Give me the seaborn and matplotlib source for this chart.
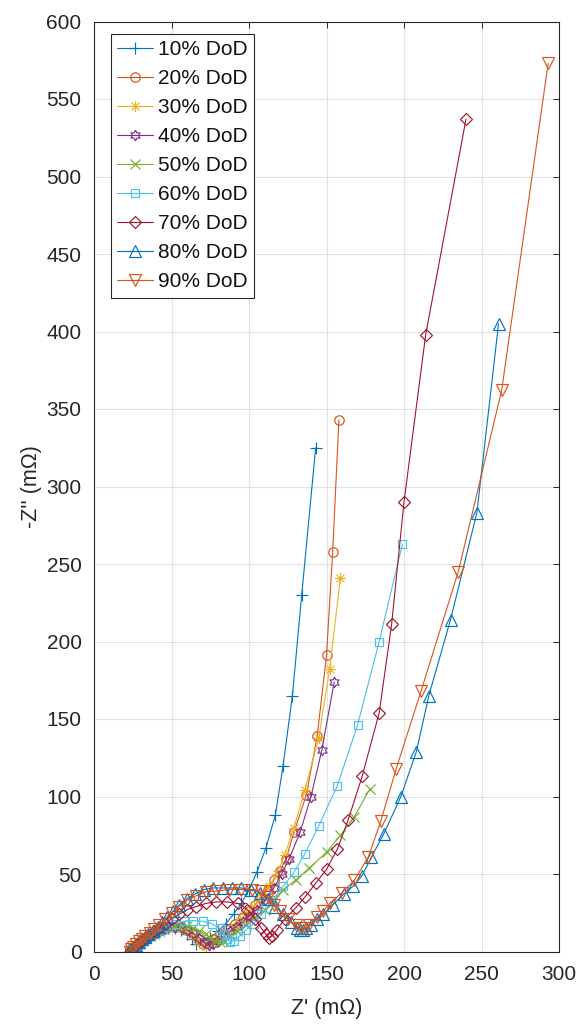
import numpy as np
import pandas as pd
import matplotlib
matplotlib.use("Agg")
import matplotlib.pyplot as plt
from matplotlib.path import Path
import seaborn as sns

# Nyquist data: real part Z' and negative imaginary part -Z'' (mOhm) at each depth of discharge
z_re_10 = [23, 24, 25, 27, 29, 31, 33, 36, 39, 42, 45, 48, 52, 56, 60, 63, 66, 70, 75, 80, 85, 90, 95, 100, 105, 111, 117, 122, 128, 134, 143]
z_im_10 = [0, 1, 2, 3.5, 5, 6.5, 8, 10, 11.5, 13, 14, 15, 15, 14, 11, 8, 5, 6, 9, 13, 18, 24, 31, 40, 51, 67, 88, 120, 165, 230, 325]

z_re_20 = [23, 24, 25, 27, 29, 31, 33, 36, 39, 42, 45, 48, 52, 56, 60, 64, 67, 70, 73, 77, 81, 86, 91, 96, 100, 104, 108, 112, 116, 120, 124, 129, 137, 144, 150, 154, 158]
z_im_20 = [0, 1, 2, 3.5, 5, 6.5, 8, 10, 11.5, 13, 14.5, 15.5, 16, 15.5, 14, 11, 8, 5, 6, 8, 11, 14, 18, 22, 26, 30, 35, 40, 46, 52, 60, 77, 101, 139, 191, 258, 343]

z_re_30 = [23, 24, 25, 27, 29, 31, 33, 36, 39, 42, 45, 48, 52, 56, 60, 64, 67, 70, 72, 75, 78, 82, 86, 90, 94, 98, 103, 108, 113, 118, 123, 129, 136, 145, 152, 159]
z_im_30 = [0, 1, 2, 3.5, 5, 6.5, 8, 10, 11.5, 13, 14, 15, 15.5, 15, 13, 10, 7, 4.5, 3.5, 4.5, 6.5, 9, 12, 16, 20, 24, 29, 35, 42, 50, 62, 80, 104, 138, 182, 241]

z_re_40 = [23, 24, 25, 27, 29, 31, 33, 36, 39, 42, 45, 48, 52, 56, 60, 64, 68, 71, 74, 77, 80, 84, 88, 92, 96, 100, 105, 110, 116, 121, 126, 133, 140, 147, 155]
z_im_40 = [0, 1, 2, 3.5, 5, 6.5, 8, 10, 11.5, 13, 14.5, 15.5, 16, 15.5, 14, 12, 9, 6, 4.5, 5, 7, 10, 13, 16, 19, 23, 27, 33, 41, 50, 60, 77, 100, 130, 174]

z_re_50 = [23, 24, 25, 27, 29, 31, 33, 36, 39, 42, 45, 48, 52, 56, 60, 64, 68, 72, 75, 78, 81, 84, 88, 92, 98, 104, 110, 116, 122, 130, 139, 150, 159, 168, 178]
z_im_50 = [0, 1, 2, 3.5, 5, 6.5, 8, 10, 11.5, 13, 14.5, 15.5, 16.5, 17, 16.5, 15, 13.5, 11, 8.5, 6.5, 6, 7, 10, 13, 17, 22, 27, 33, 40, 46, 54, 64, 75, 87, 105]

z_re_60 = [23, 24, 25, 27, 29, 31, 34, 37, 40, 44, 48, 53, 58, 64, 70, 76, 81, 84, 86, 88, 90, 94, 98, 103, 108, 115, 122, 129, 136, 145, 157, 170, 184, 199]
z_im_60 = [0, 1, 2, 3.5, 5, 6.5, 8, 10, 12, 14, 16, 18, 19.5, 20, 19.5, 18, 15, 11, 8, 6, 7, 10, 14, 18, 24, 33, 42, 51, 63, 81, 107, 146, 200, 263]

z_re_70 = [23, 24, 25, 27, 29, 31, 33, 36, 39, 42, 46, 50, 55, 60, 66, 72, 79, 86, 93, 99, 104, 108, 111, 113, 115, 118, 123, 130, 136, 143, 150, 157, 164, 173, 184, 192, 200, 214, 240]
z_im_70 = [0, 1, 2.5, 4, 5.5, 7, 8.5, 10.5, 13, 15, 18, 21, 24, 27, 29, 31, 32, 32, 31, 27, 21, 15, 11, 9, 10, 14, 21, 28, 35, 44, 53, 66, 85, 113, 154, 211, 290, 398, 537]

z_re_80 = [23, 24, 25, 27, 29, 31, 33, 35, 38, 41, 44, 47, 51, 55, 60, 65, 71, 77, 83, 89, 95, 101, 107, 112, 117, 122, 127, 131, 133, 135, 137, 140, 144, 148, 154, 161, 167, 173, 179, 187, 198, 208, 216, 230, 247, 261]
z_im_80 = [0, 1.5, 3, 4.5, 6, 8, 9.5, 11, 13, 16, 19, 22, 26, 30, 34, 37, 40, 41, 41, 41, 41, 40, 38, 34, 29, 24, 19, 15, 14, 14, 15, 17, 21, 24, 30, 37, 42, 49, 61, 76, 100, 129, 165, 214, 283, 405]

z_re_90 = [23, 24, 25, 27, 29, 31, 33, 36, 39, 42, 46, 50, 55, 60, 66, 72, 79, 87, 95, 102, 108, 112, 116, 120, 125, 130, 133, 136, 139, 144, 148, 152, 160, 168, 177, 185, 195, 211, 235, 263, 293]
z_im_90 = [0, 1.5, 3, 5, 6.5, 8, 10, 12, 14.5, 17, 21, 25, 29, 33, 36, 38.5, 39, 40, 40, 40, 39, 35, 30, 26, 21, 17, 15, 15, 17, 22, 26, 31, 38, 46, 61, 84, 118, 168, 245, 362, 573]

labels = ["10% DoD", "20% DoD", "30% DoD", "40% DoD", "50% DoD",
          "60% DoD", "70% DoD", "80% DoD", "90% DoD"]
x_ticks = [0, 50, 100, 150, 200, 250, 300]
y_ticks = [0, 50, 100, 150, 200, 250, 300, 350, 400, 450, 500, 550, 600]

series_re = [z_re_10, z_re_20, z_re_30, z_re_40, z_re_50, z_re_60, z_re_70, z_re_80, z_re_90]
series_im = [z_im_10, z_im_20, z_im_30, z_im_40, z_im_50, z_im_60, z_im_70, z_im_80, z_im_90]

# star-of-David outline used for the 40% curve
ang_out = np.deg2rad(90 + 60 * np.arange(6))
ang_in = np.deg2rad(120 + 60 * np.arange(6))
r_in = 1 / np.sqrt(3)
hexagram = []
for a, b in zip(ang_out, ang_in):
    hexagram.append((np.cos(a), np.sin(a)))
    hexagram.append((r_in * np.cos(b), r_in * np.sin(b)))
hexagram.append(hexagram[0])

# eight-spoke asterisk made of open strokes
d = np.sqrt(0.5)
ast_verts = [(-1, 0), (1, 0), (0, -1), (0, 1), (-d, -d), (d, d), (-d, d), (d, -d)]
ast_codes = [Path.MOVETO, Path.LINETO] * 4
asterisk = Path(ast_verts, ast_codes)

colors = ["#0072BD", "#D95319", "#EDB120", "#7E2F8E", "#77AC30",
          "#4DBEEE", "#A2142F", "#0072BD", "#D95319"]
markers = ["+", "o", asterisk, hexagram, "x", "s", "D", "^", "v"]
msizes = [8, 6.8, 8, 7.5, 6.5, 5.8, 6.4, 8.2, 8.2]

sns.set_theme(style="white")
plt.rcParams["font.family"] = ["Liberation Sans", "DejaVu Sans"]

fig = plt.figure(figsize=(5.82, 10.28), dpi=100)
ax = fig.add_axes([94 / 582, 1 - 951.5 / 1028, 465 / 582, 930 / 1028])

for xr, yi, lab, c, m, s in zip(series_re, series_im, labels, colors, markers, msizes):
    df = pd.DataFrame({"re": xr, "im": yi})
    sns.lineplot(data=df, x="re", y="im", ax=ax, sort=False, estimator=None,
                 color=c, lw=0.8, marker=m, ms=s, mfc="none", mec=c, mew=0.85,
                 label=lab)

ax.set_xlim(0, 300)
ax.set_ylim(0, 600)
ax.set_xticks(x_ticks)
ax.set_yticks(y_ticks)
ax.grid(True, color="#e2e2e2", lw=0.8)
ax.set_axisbelow(True)
for sp in ax.spines.values():
    sp.set_color("#262626")
    sp.set_linewidth(0.8)
ax.tick_params(direction="in", length=4, width=0.7, colors="#262626",
               labelsize=15, top=True, right=True)
ax.tick_params(axis="x", pad=10)
ax.tick_params(axis="y", pad=9)
ax.set_xlabel("Z' (m\u03a9)", fontsize=15.5, color="#262626", labelpad=10)
ax.set_ylabel("-Z'' (m\u03a9)", fontsize=15.5, color="#262626", labelpad=3)

leg = ax.legend(loc="upper left", bbox_to_anchor=(17 / 465, 1 - 12.5 / 930),
                borderaxespad=0, fontsize=15, frameon=True, fancybox=False,
                framealpha=1, edgecolor="#262626", handlelength=1.7,
                handletextpad=0.25, labelspacing=0.48, borderpad=0.3)
leg.get_frame().set_linewidth(0.8)
for t in leg.get_texts():
    t.set_color("#111111")

fig.savefig("out.png", dpi=100)
